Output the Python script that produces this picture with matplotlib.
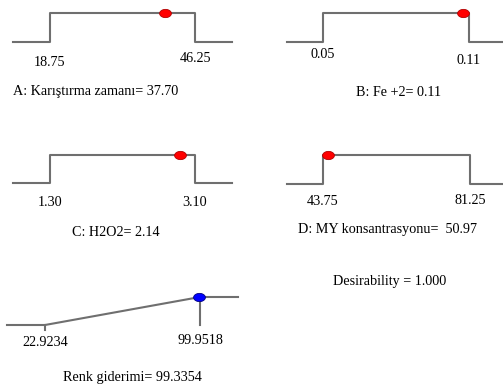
import matplotlib.pyplot as plt
import numpy as np
from matplotlib.path import Path

W, H = 503, 389
plt.rcParams['font.family'] = 'Liberation Serif'

# factor ranges and optimum (Design-Expert style ramps)
titles = ['A: Karıştırma zamanı= 37.70', 'B: Fe +2= 0.11',
          'C: H2O2= 2.14', 'D: MY konsantrasyonu=  50.97']
lows = [18.75, 0.05, 1.30, 43.75]
highs = [46.25, 0.11, 3.10, 81.25]
low_labels = ['18.75', '0.05', '1.30', '43.75']
high_labels = ['46.25', '0.11', '3.10', '81.25']
dot_pos = [40.56, 0.1075, 2.91, 45.0]  # where the red dots sit on the chart

# response
resp_title = 'Renk giderimi= 99.3354'
resp_low, resp_high = 22.9234, 99.9518
resp_value = 99.3354
desirability = 1.000

# layout in pixels: step x (low, high), line y (low, high), line ends, label offsets
boxes = [(50, 195, 42, 13, 13, 232), (323, 469, 42, 13, 287, 503),
         (50, 195, 183, 155, 13, 232), (323, 470, 184, 155, 287, 503)]
lab_dy = [(20, 16), (12, 19), (19, 19), (18, 17)]
title_xy = [(13, 92, 'left'), (399, 92, 'center'), (116, 233, 'center'), (387, 229, 'center')]

line_c = '#6f6f6f'
fs = 10.2
t = np.linspace(0, 2 * np.pi, 40)
oval = Path(np.column_stack([np.cos(t), 0.7 * np.sin(t)]))

fig = plt.figure(figsize=(W / 100, H / 100), dpi=100)


def box_axes(x0, x1, ylo, yhi):
    ax = fig.add_axes([x0 / W, 1 - ylo / H, (x1 - x0) / W, (ylo - yhi) / H])
    ax.axis('off')
    ax.set_ylim(0, 1)
    return ax


for i in range(4):
    x0, x1, ylo, yhi, xl, xr = boxes[i]
    lo, hi = lows[i], highs[i]
    ax = box_axes(x0, x1, ylo, yhi)
    ax.set_xlim(lo, hi)
    span = hi - lo
    el = (x0 - xl) / (x1 - x0) * span
    er = (xr - x1) / (x1 - x0) * span
    ax.plot([lo - el, lo, lo, hi, hi, hi + er], [0, 0, 1, 1, 0, 0],
            color=line_c, lw=1.5, clip_on=False)
    ax.scatter([dot_pos[i]], [1], s=72, marker=oval, color='#ff0000',
               edgecolor='#b00000', linewidth=0.6, zorder=3, clip_on=False)
    hpx = ylo - yhi
    ax.text(lo, -lab_dy[i][0] / hpx, low_labels[i], ha='center', va='center', fontsize=fs)
    ax.text(hi, -lab_dy[i][1] / hpx, high_labels[i], ha='center', va='center', fontsize=fs)
    tx, ty, ha = title_xy[i]
    fig.text(tx / W, 1 - ty / H, titles[i], ha=ha, va='center', fontsize=fs)

# response ramp
x0, x1, ylo, yhi, xl, xr = 45, 200, 325, 297, 7, 238
ax = box_axes(x0, x1, ylo, yhi)
ax.set_xlim(resp_low, resp_high)
span = resp_high - resp_low
el = (x0 - xl) / (x1 - x0) * span
er = (xr - x1) / (x1 - x0) * span
ax.plot([resp_low - el, resp_low, resp_high, resp_high + er], [0, 0, 1, 1],
        color=line_c, lw=1.5, clip_on=False)
ax.plot([resp_low, resp_low], [0, -5 / (ylo - yhi)], color=line_c, lw=1.5, clip_on=False)
ax.plot([resp_high, resp_high], [0, 1], color=line_c, lw=1.5, clip_on=False)
d = (resp_value - resp_low) / span
ax.scatter([resp_value], [d], s=72, marker=oval, color='#0000ff',
           edgecolor='#000080', linewidth=0.6, zorder=3, clip_on=False)
ax.text(resp_low, -18 / 28, f'{resp_low:.4f}', ha='center', va='center', fontsize=fs)
ax.text(resp_high, -15 / 28, f'{resp_high:.4f}', ha='center', va='center', fontsize=fs)
fig.text(132 / W, 1 - 378 / H, resp_title, ha='center', va='center', fontsize=fs)

fig.text(390 / W, 1 - 282 / H, f'Desirability = {desirability:.3f}',
         ha='center', va='center', fontsize=fs)

fig.savefig('out.png', dpi=100)
